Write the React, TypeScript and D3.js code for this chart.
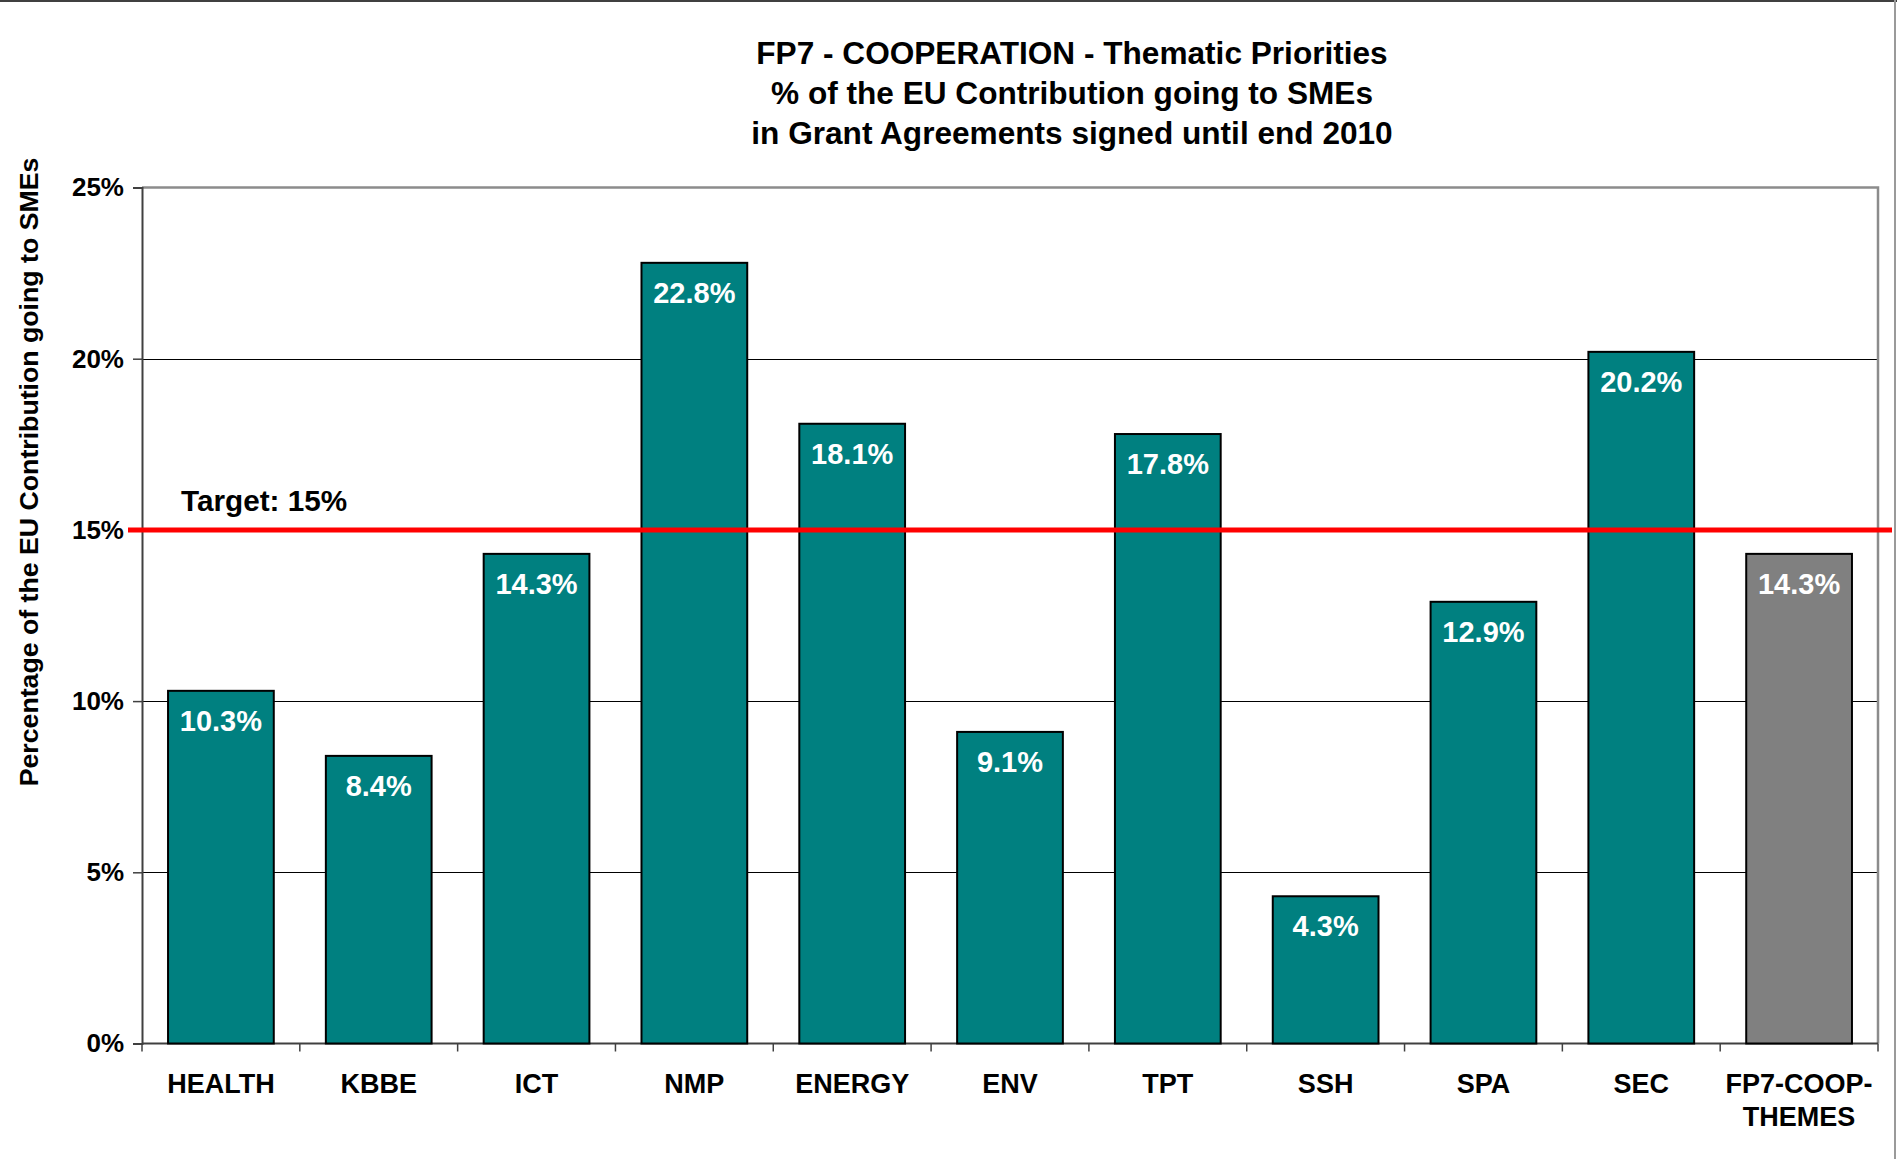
import React, { useRef, useEffect } from "react";
import * as d3 from "d3";

const categories = ["HEALTH", "KBBE", "ICT", "NMP", "ENERGY", "ENV", "TPT", "SSH", "SPA", "SEC", "FP7-COOP-THEMES"];
const categoryLines = [["HEALTH"], ["KBBE"], ["ICT"], ["NMP"], ["ENERGY"], ["ENV"], ["TPT"], ["SSH"], ["SPA"], ["SEC"], ["FP7-COOP-", "THEMES"]];
const shares = [10.3, 8.4, 14.3, 22.8, 18.1, 9.1, 17.8, 4.3, 12.9, 20.2, 14.3];
const yTicks = [0, 5, 10, 15, 20, 25];
const target = 15;
const titleLines = [
  "FP7 - COOPERATION - Thematic Priorities",
  "% of the EU Contribution going to SMEs",
  "in Grant Agreements signed until end 2010",
];

const W = 1897;
const H = 1159;
const FONT = "'Liberation Sans', Arial, sans-serif";

const BarChart = () => {
  const svgRef = useRef(null);

  useEffect(() => {
    const svg = d3.select(svgRef.current);
    svg.selectAll("*").remove();

    const left = 142, right = 1878, top = 187.5, bottom = 1043.5;

    const x = d3.scaleBand().domain(categories).range([left, right]).paddingInner(0.33).paddingOuter(0.165);
    const y = d3.scaleLinear().domain([0, 25]).range([bottom, top]);
    const step = x.step();

    // outer frame
    svg.append("line").attr("x1", 0).attr("x2", W).attr("y1", 1).attr("y2", 1).attr("stroke", "#404040").attr("stroke-width", 2);
    svg.append("line").attr("x1", 1895).attr("x2", 1895).attr("y1", 0).attr("y2", H).attr("stroke", "#9a9a9a").attr("stroke-width", 2);

    // title
    svg.append("g")
      .selectAll("text")
      .data(titleLines)
      .join("text")
      .attr("x", 1072)
      .attr("y", (d, i) => 64 + i * 40)
      .attr("text-anchor", "middle")
      .attr("font-family", FONT)
      .attr("font-weight", "bold")
      .attr("font-size", 31.6)
      .text(d => d);

    // gridlines
    svg.append("g")
      .selectAll("line")
      .data(yTicks.filter(t => t > 0 && t < 25))
      .join("line")
      .attr("x1", left).attr("x2", right)
      .attr("y1", d => Math.round(y(d)) + 0.5).attr("y2", d => Math.round(y(d)) + 0.5)
      .attr("stroke", "#000").attr("stroke-width", 1);

    // plot frame top/right
    svg.append("path")
      .attr("d", `M${left},${top}H${right}V${bottom}`)
      .attr("fill", "none").attr("stroke", "#8c8c8c").attr("stroke-width", 2.5);

    // y axis
    const yAxis = d3.axisLeft(y).tickValues(yTicks).tickSize(9).tickFormat(d => `${d}%`);
    const gy = svg.append("g").attr("transform", `translate(${left},0)`).call(yAxis);
    gy.select(".domain").attr("stroke", "#404040").attr("stroke-width", 2);
    gy.selectAll(".tick line").attr("stroke", "#404040").attr("stroke-width", 1.5);
    gy.selectAll(".tick text")
      .attr("x", -18)
      .attr("font-family", FONT).attr("font-weight", "bold").attr("font-size", 26).attr("fill", "#000");

    // x axis line and ticks at category boundaries
    svg.append("line").attr("x1", left).attr("x2", right).attr("y1", bottom).attr("y2", bottom)
      .attr("stroke", "#404040").attr("stroke-width", 2);
    svg.append("g")
      .selectAll("line")
      .data(d3.range(categories.length + 1))
      .join("line")
      .attr("x1", i => left + i * step).attr("x2", i => left + i * step)
      .attr("y1", bottom).attr("y2", bottom + 8)
      .attr("stroke", "#404040").attr("stroke-width", 1.5);

    // x labels
    svg.append("g")
      .selectAll("text")
      .data(categories)
      .join("text")
      .attr("text-anchor", "middle")
      .attr("font-family", FONT).attr("font-weight", "bold").attr("font-size", 27)
      .attr("transform", d => `translate(${x(d) + x.bandwidth() / 2},1093)`)
      .selectAll("tspan")
      .data((d, i) => categoryLines[i])
      .join("tspan")
      .attr("x", 0)
      .attr("y", (d, i) => i * 33)
      .text(d => d);

    // bars
    svg.append("g")
      .selectAll("rect")
      .data(shares)
      .join("rect")
      .attr("x", (d, i) => x(categories[i]))
      .attr("y", d => y(d))
      .attr("width", x.bandwidth())
      .attr("height", d => bottom - y(d))
      .attr("fill", (d, i) => (i === categories.length - 1 ? "#808080" : "#008080"))
      .attr("stroke", "#000")
      .attr("stroke-width", 2);

    // value labels
    svg.append("g")
      .selectAll("text")
      .data(shares)
      .join("text")
      .attr("x", (d, i) => x(categories[i]) + x.bandwidth() / 2)
      .attr("y", d => y(d) + 40)
      .attr("text-anchor", "middle")
      .attr("font-family", FONT).attr("font-weight", "bold").attr("font-size", 29)
      .attr("fill", "#fff")
      .text(d => `${d.toFixed(1)}%`);

    // target line
    svg.append("line")
      .attr("x1", 128).attr("x2", 1892)
      .attr("y1", y(target)).attr("y2", y(target))
      .attr("stroke", "#ff0000").attr("stroke-width", 5);
    svg.append("text")
      .attr("x", 181).attr("y", 511)
      .attr("font-family", FONT).attr("font-weight", "bold").attr("font-size", 29.7)
      .text(`Target: ${target}%`);

    // y axis title
    svg.append("text")
      .attr("transform", `translate(38,472) rotate(-90)`)
      .attr("text-anchor", "middle")
      .attr("font-family", FONT).attr("font-weight", "bold").attr("font-size", 26.7)
      .text("Percentage of the EU Contribution going to SMEs");
  }, []);

  return (
    <div style={{ position: "absolute", left: 0, top: 0, background: "#fff" }}>
      <svg ref={svgRef} width={W} height={H} style={{ display: "block" }} />
    </div>
  );
};

export default function App() {
  return <BarChart />;
}
